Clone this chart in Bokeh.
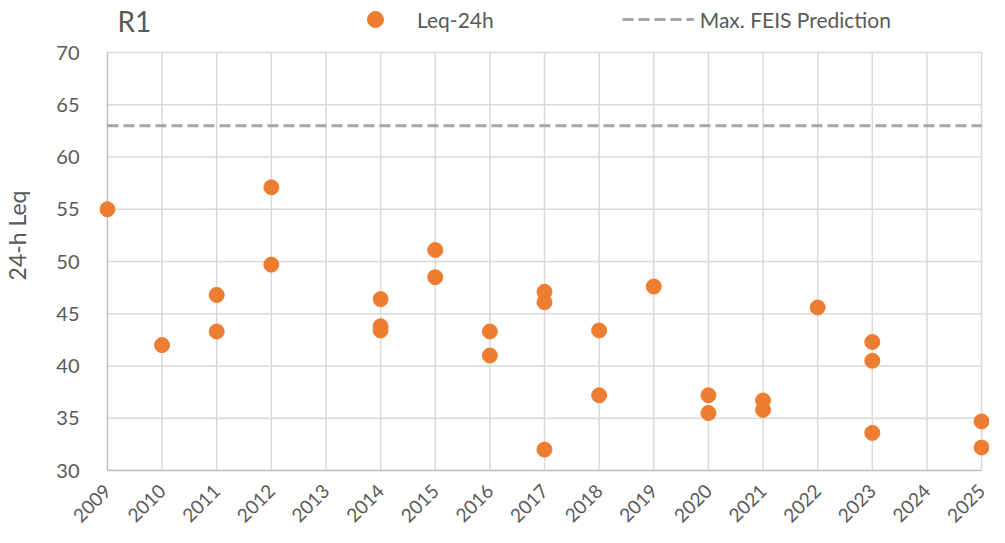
from bokeh.plotting import figure
from bokeh.models import Range1d, FixedTicker, Legend, LegendItem, Label
from bokeh.embed import file_html
from bokeh.resources import INLINE

# ---- data ----
year_ticks = list(range(2009, 2026))
y_ticks = [30, 35, 40, 45, 50, 55, 60, 65, 70]
point_years = [2009, 2010, 2011, 2011, 2012, 2012, 2014, 2014, 2014, 2015, 2015,
               2016, 2016, 2017, 2017, 2017, 2018, 2018, 2019, 2020, 2020,
               2021, 2021, 2022, 2023, 2023, 2023, 2025, 2025]
leq_24h = [55.0, 42.0, 46.8, 43.3, 57.1, 49.7, 46.4, 43.8, 43.4, 51.1, 48.5,
           43.3, 41.0, 47.1, 46.1, 32.0, 43.4, 37.2, 47.6, 37.2, 35.5,
           36.7, 35.8, 45.6, 42.3, 40.5, 33.6, 34.7, 32.2]
feis_max = 63.0

FONT = "Lato"
TXT = "#595959"
GRID = "#d9d9d9"
AXIS = "#bfbfbf"
ORANGE = "#ED7D31"

# layout constants (pixels inside the figure)
FIG_W, FIG_H = 989, 532
BOTTOM_BORDER = 62
FRAME_BOTTOM = FIG_H - BOTTOM_BORDER   # frame height in px
PLOT_TOP = 52                          # where the 70 line should sit
px_per_unit = (FRAME_BOTTOM - PLOT_TOP) / (y_ticks[-1] - y_ticks[0])
y_top = y_ticks[-1] + PLOT_TOP / px_per_unit

pad = 0.145
p = figure(width=FIG_W, height=FIG_H, output_backend="svg", toolbar_location=None,
           x_range=Range1d(year_ticks[0] - pad, year_ticks[-1] + pad),
           y_range=Range1d(y_ticks[0], y_top))
p.min_border_left = 91
p.min_border_right = 0
p.min_border_top = 0
p.min_border_bottom = BOTTOM_BORDER
p.outline_line_color = None
p.background_fill_color = "white"
p.border_fill_color = "white"
p.xgrid.grid_line_color = None
p.ygrid.grid_line_color = None

# grid lines limited to the data area
n_y, n_x = len(y_ticks), len(year_ticks)
p.segment(x0=[year_ticks[0]] * n_y, x1=[year_ticks[-1]] * n_y,
          y0=y_ticks, y1=y_ticks, line_color=GRID, line_width=1.5)
p.segment(x0=year_ticks[1:], x1=year_ticks[1:],
          y0=[y_ticks[0]] * (n_x - 1), y1=[y_ticks[-1]] * (n_x - 1),
          line_color=GRID, line_width=1.5)
p.segment(x0=[year_ticks[0]], x1=[year_ticks[0]], y0=[y_ticks[0]], y1=[y_ticks[-1]],
          line_color=AXIS, line_width=1.5)

# x axis
xa = p.xaxis[0]
xa.ticker = FixedTicker(ticks=year_ticks)
xa.major_label_overrides = {y: str(y) for y in year_ticks}
xa.bounds = (year_ticks[0], year_ticks[-1])
xa.axis_line_color = AXIS
xa.axis_line_width = 1.5
xa.major_tick_line_color = None
xa.minor_tick_line_color = None
xa.major_label_orientation = 0.785398
xa.major_label_text_font = FONT
xa.major_label_text_font_size = "19px"
xa.major_label_text_color = TXT
xa.major_label_standoff = 11

# y axis
ya = p.yaxis[0]
ya.ticker = FixedTicker(ticks=y_ticks)
ya.bounds = (y_ticks[0], y_ticks[-1])
ya.axis_line_color = None
ya.major_tick_line_color = None
ya.minor_tick_line_color = None
ya.major_label_text_font = FONT
ya.major_label_text_font_size = "20px"
ya.major_label_text_color = TXT
ya.major_label_standoff = 14
ya.axis_label = "24-h Leq"
ya.axis_label_text_font = FONT
ya.axis_label_text_font_size = "23px"
ya.axis_label_text_font_style = "normal"
ya.axis_label_text_color = TXT
ya.axis_label_standoff = 22

# data
feis = p.line(x=[year_ticks[0], year_ticks[-1]], y=[feis_max, feis_max],
              line_color="#a6a6a6", line_width=3, line_dash="11 5")
pts = p.scatter(x=point_years, y=leq_24h, size=15, fill_color=ORANGE,
                line_color=ORANGE)

# title
p.add_layout(Label(x=18, y=FRAME_BOTTOM - 20, x_units="screen", y_units="screen",
                   text="R1", text_font=FONT, text_font_size="28px",
                   text_color=TXT, text_baseline="alphabetic", text_align="left"))

legend = Legend(items=[LegendItem(label="Leq-24h", renderers=[pts]),
                       LegendItem(label="Max. FEIS Prediction", renderers=[feis])],
                orientation="horizontal", location=(240, FRAME_BOTTOM - 39),
                glyph_width=72, glyph_height=40, label_standoff=6, spacing=128,
                padding=0, margin=0, border_line_color=None,
                background_fill_alpha=0,
                label_text_font=FONT, label_text_font_size="21px",
                label_text_color=TXT)
p.add_layout(legend, "center")

open("out.html", "w").write(file_html(p, INLINE))
